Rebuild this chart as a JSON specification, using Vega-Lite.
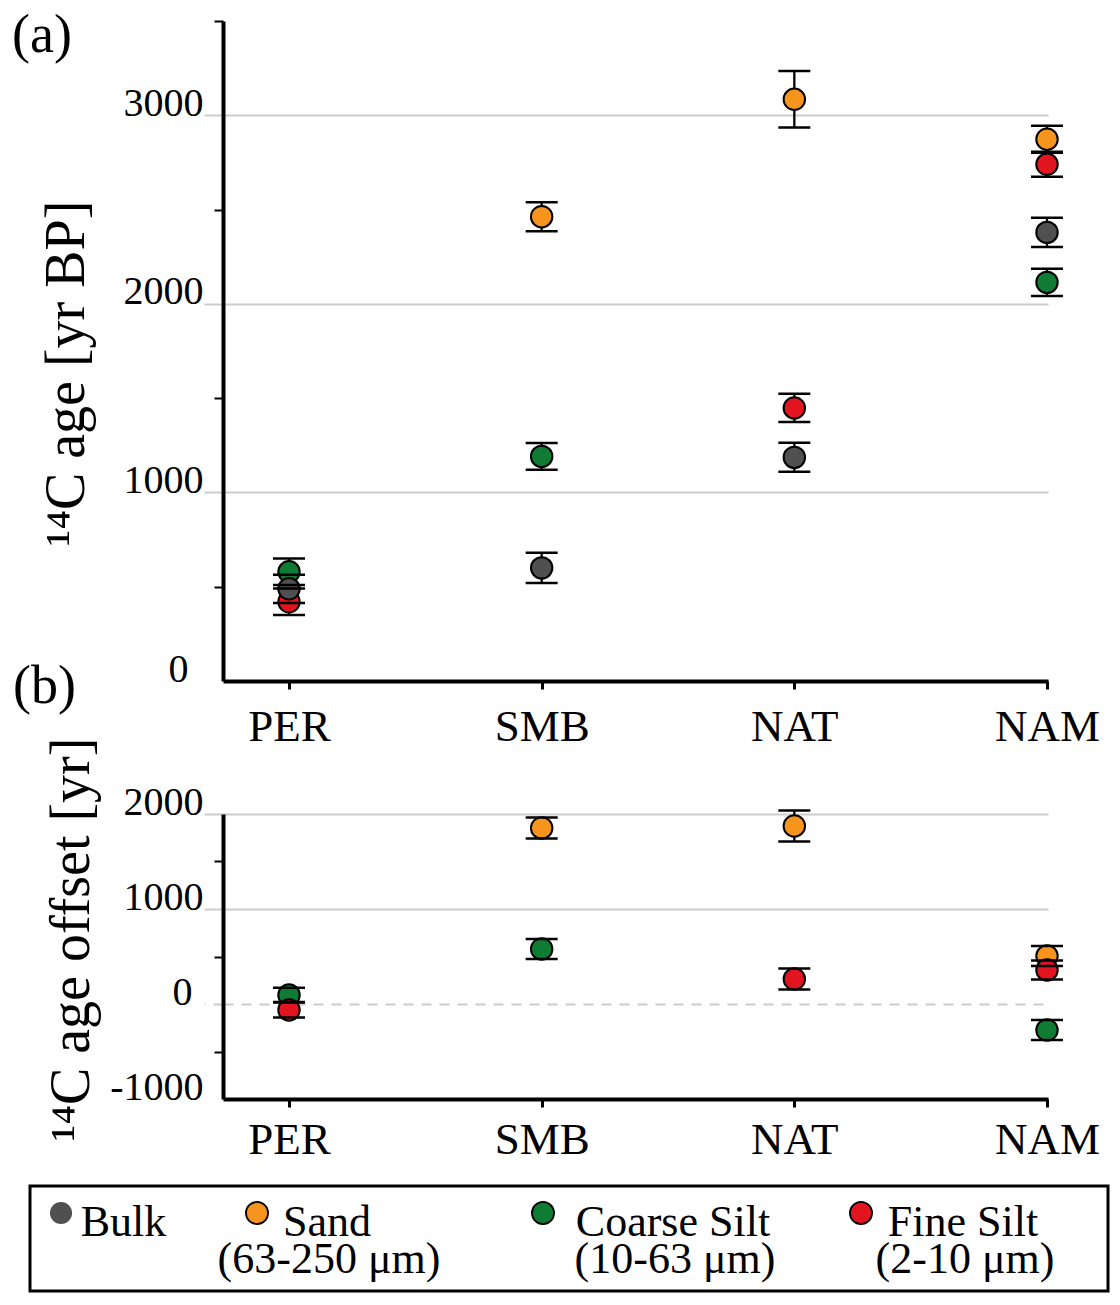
{
  "$schema": "https://vega.github.io/schema/vega-lite/v6.json",
  "padding": {"left": 12, "top": 9, "right": 5, "bottom": 5},
  "background": "white",
  "config": {
    "font": "Liberation Serif",
    "view": {"stroke": null},
    "axis": {"labelFont": "Liberation Serif", "titleFont": "Liberation Serif", "labelColor": "black", "titleColor": "black", "domainColor": "black", "titleFontWeight": "normal"}
  },
  "datasets": {
    "age": [
      {"site": "PER", "series": "Coarse Silt", "age": 579, "err": 70},
      {"site": "PER", "series": "Fine Silt", "age": 420, "err": 70},
      {"site": "PER", "series": "Bulk", "age": 489, "err": 75},
      {"site": "SMB", "series": "Sand", "age": 2462, "err": 77},
      {"site": "SMB", "series": "Coarse Silt", "age": 1191, "err": 71},
      {"site": "SMB", "series": "Bulk", "age": 600, "err": 80},
      {"site": "NAT", "series": "Sand", "age": 3085, "err": 150},
      {"site": "NAT", "series": "Fine Silt", "age": 1448, "err": 75},
      {"site": "NAT", "series": "Bulk", "age": 1186, "err": 77},
      {"site": "NAM", "series": "Sand", "age": 2873, "err": 72},
      {"site": "NAM", "series": "Coarse Silt", "age": 2114, "err": 72},
      {"site": "NAM", "series": "Fine Silt", "age": 2740, "err": 66},
      {"site": "NAM", "series": "Bulk", "age": 2379, "err": 77}
    ],
    "offset": [
      {"site": "PER", "series": "Coarse Silt", "offset": 95, "err": 75},
      {"site": "PER", "series": "Fine Silt", "offset": -63, "err": 80},
      {"site": "SMB", "series": "Sand", "offset": 1853, "err": 110},
      {"site": "SMB", "series": "Coarse Silt", "offset": 579, "err": 105},
      {"site": "NAT", "series": "Sand", "offset": 1874, "err": 163},
      {"site": "NAT", "series": "Fine Silt", "offset": 263, "err": 110},
      {"site": "NAM", "series": "Sand", "offset": 505, "err": 105},
      {"site": "NAM", "series": "Coarse Silt", "offset": -274, "err": 105},
      {"site": "NAM", "series": "Fine Silt", "offset": 358, "err": 100}
    ],
    "panels": [{"panel": "(a)"}],
    "panelsB": [{"panel": "(b)"}],
    "legend": [
      {"series": "Bulk", "order": 1, "line1": "Bulk", "line2": ""},
      {"series": "Sand", "order": 2, "line1": "Sand", "line2": "(63-250 μm)"},
      {"series": "Coarse Silt", "order": 3, "line1": "Coarse Silt", "line2": "(10-63 μm)"},
      {"series": "Fine Silt", "order": 4, "line1": "Fine Silt", "line2": "(2-10 μm)"}
    ]
  },
  "spacing": 22,
  "vconcat": [
    {
      "bounds": "flush",
      "spacing": 133,
      "vconcat": [
        {
          "width": 1018,
          "height": 660,
          "layer": [
            {
              "data": {"name": "age"},
              "encoding": {
                "x": {
                  "field": "site", "type": "nominal", "sort": null,
                  "scale": {"type": "point", "domain": ["PER", "SMB", "NAT", "NAM"], "range": [193, 1018], "padding": 0.1326, "align": 0.985},
                  "axis": {"title": null, "labelAngle": 0, "labelFontSize": 45, "labelBaseline": "alphabetic", "labelPadding": 51, "tickSize": 8, "tickWidth": 3, "tickColor": "black", "domainWidth": 4, "grid": false}
                },
                "y": {
                  "field": "age", "type": "quantitative",
                  "scale": {"domain": [0, 3500], "nice": false, "zero": false},
                  "axis": {
                    "title": "¹⁴C age [yr BP]",
                    "offset": -193,
                    "values": [0, 500, 1000, 1500, 2000, 2500, 3000, 3500],
                    "labelExpr": "datum.value % 1000 === 0 ? '' + datum.value : ''",
                    "labelFontSize": 40, "labelBaseline": "alphabetic",
                    "labelPadding": {"condition": {"test": "datum.value === 0", "value": 16}, "value": 1},
                    "tickSize": {"condition": {"test": "datum.value % 1000 === 0", "value": 19}, "value": 9},
                    "tickColor": {"condition": {"test": "datum.value % 1000 === 0", "value": "#cccccc"}, "value": "black"},
                    "tickOpacity": {"condition": {"test": "datum.value === 0", "value": 0}, "value": 1},
                    "tickWidth": 2,
                    "grid": true, "gridColor": "#cccccc", "gridWidth": 2,
                    "gridOpacity": {"condition": {"test": "datum.value % 1000 === 0 && datum.value !== 0", "value": 1}, "value": 0},
                    "domainWidth": 4,
                    "titleFontSize": 56, "titleX": -140, "titleY": 352, "titleAngle": 270, "titleAlign": "center", "titleBaseline": "alphabetic"
                  }
                }
              },
              "layer": [
                {"mark": {"type": "errorbar", "color": "black", "opacity": 1, "thickness": 2.3, "ticks": false, "rule": {"color": "black", "strokeWidth": 2.3, "opacity": 1}}, "encoding": {"yError": {"field": "err"}}},
                {
                  "mark": {"type": "point", "shape": "circle", "filled": true, "size": 460, "stroke": "black", "strokeWidth": 2, "opacity": 1},
                  "encoding": {"color": {"field": "series", "type": "nominal", "scale": {"domain": ["Bulk", "Sand", "Coarse Silt", "Fine Silt"], "range": ["#505050", "#F7941D", "#0F7B33", "#E2141F"]}, "legend": null}}
                },
                {"mark": {"type": "errorbar", "color": "black", "opacity": 1, "thickness": 2.5, "rule": false, "ticks": {"color": "black", "size": 32, "thickness": 2.5, "opacity": 1}}, "encoding": {"yError": {"field": "err"}}}
              ]
            },
            {
              "data": {"name": "panels"},
              "mark": {"type": "text", "fontSize": 54, "align": "left", "baseline": "alphabetic", "dx": -18, "dy": 31, "color": "black"},
              "encoding": {"x": {"value": 0}, "y": {"value": 0}, "text": {"field": "panel"}}
            }
          ]
        },
        {
          "width": 1018,
          "height": 285,
          "layer": [
            {
              "data": {"name": "offset"},
              "encoding": {
                "x": {
                  "field": "site", "type": "nominal", "sort": null,
                  "scale": {"type": "point", "domain": ["PER", "SMB", "NAT", "NAM"], "range": [193, 1018], "padding": 0.1326, "align": 0.985},
                  "axis": {"title": null, "labelAngle": 0, "labelFontSize": 45, "labelBaseline": "alphabetic", "labelPadding": 46, "tickSize": 8, "tickWidth": 3, "tickColor": "black", "domainWidth": 4, "grid": false}
                },
                "y": {
                  "field": "offset", "type": "quantitative",
                  "scale": {"domain": [-1000, 2000], "nice": false, "zero": false},
                  "axis": {
                    "title": "¹⁴C age offset [yr]",
                    "offset": -193,
                    "values": [-1000, -500, 0, 500, 1000, 1500, 2000],
                    "labelExpr": "datum.value % 1000 === 0 ? '' + datum.value : ''",
                    "labelFontSize": 40, "labelBaseline": "alphabetic",
                    "labelPadding": {"condition": {"test": "datum.value === 0", "value": 12}, "value": 1},
                    "tickSize": {"condition": {"test": "datum.value % 1000 === 0", "value": 19}, "value": 9},
                    "tickColor": {"condition": {"test": "datum.value % 1000 === 0", "value": "#cccccc"}, "value": "black"},
                    "tickOpacity": {"condition": {"test": "datum.value === -1000", "value": 0}, "value": 1},
                    "tickDash": {"condition": {"test": "datum.value === 0", "value": [10, 8]}, "value": []},
                    "tickWidth": 2,
                    "grid": true, "gridColor": "#cccccc", "gridWidth": 2,
                    "gridOpacity": {"condition": {"test": "datum.value % 1000 === 0 && datum.value !== -1000", "value": 1}, "value": 0},
                    "gridDash": {"condition": {"test": "datum.value === 0", "value": [10, 8]}, "value": []},
                    "domainWidth": 4,
                    "titleFontSize": 56, "titleX": -135, "titleY": 125, "titleAngle": 270, "titleAlign": "center", "titleBaseline": "alphabetic"
                  }
                }
              },
              "layer": [
                {"mark": {"type": "errorbar", "color": "black", "opacity": 1, "thickness": 2.3, "ticks": false, "rule": {"color": "black", "strokeWidth": 2.3, "opacity": 1}}, "encoding": {"yError": {"field": "err"}}},
                {
                  "mark": {"type": "point", "shape": "circle", "filled": true, "size": 460, "stroke": "black", "strokeWidth": 2, "opacity": 1},
                  "encoding": {"color": {"field": "series", "type": "nominal", "scale": {"domain": ["Bulk", "Sand", "Coarse Silt", "Fine Silt"], "range": ["#505050", "#F7941D", "#0F7B33", "#E2141F"]}, "legend": null}}
                },
                {"mark": {"type": "errorbar", "color": "black", "opacity": 1, "thickness": 2.5, "rule": false, "ticks": {"color": "black", "size": 32, "thickness": 2.5, "opacity": 1}}, "encoding": {"yError": {"field": "err"}}}
              ]
            },
            {
              "data": {"name": "panelsB"},
              "mark": {"type": "text", "fontSize": 54, "align": "left", "baseline": "alphabetic", "dx": -17, "dy": -111, "color": "black"},
              "encoding": {"x": {"value": 0}, "y": {"value": 0}, "text": {"field": "panel"}}
            }
          ]
        }
      ]
    },
    {
      "width": 1078,
      "height": 105,
      "view": {"stroke": "black", "strokeWidth": 3, "fill": "white"},
      "data": {"name": "legend"},
      "resolve": {"scale": {"x": "independent"}},
      "layer": [
        {
          "mark": {"type": "point", "shape": "circle", "filled": true, "size": 490, "strokeWidth": 1.8, "opacity": 1, "yOffset": -25.5},
          "encoding": {
            "x": {"field": "order", "type": "quantitative", "scale": {"domain": [1, 2, 3, 4], "range": [31, 227, 513, 831], "nice": false, "zero": false}, "axis": null},
            "color": {"field": "series", "type": "nominal", "scale": {"domain": ["Bulk", "Sand", "Coarse Silt", "Fine Silt"], "range": ["#505050", "#F7941D", "#0F7B33", "#E2141F"]}, "legend": null},
            "stroke": {"condition": {"test": "datum.series === 'Bulk'", "value": "transparent"}, "value": "black"}
          }
        },
        {
          "mark": {"type": "text", "fontSize": 44, "align": "center", "baseline": "alphabetic", "dy": -2.5, "color": "black"},
          "encoding": {
            "x": {"field": "order", "type": "quantitative", "scale": {"domain": [1, 2, 3, 4], "range": [93.5, 297, 643, 933], "nice": false, "zero": false}, "axis": null},
            "text": {"field": "line1"}
          }
        },
        {
          "mark": {"type": "text", "fontSize": 44, "align": "center", "baseline": "alphabetic", "dy": 34.5, "color": "black"},
          "encoding": {
            "x": {"field": "order", "type": "quantitative", "scale": {"domain": [1, 2, 3, 4], "range": [93.5, 299, 645, 935], "nice": false, "zero": false}, "axis": null},
            "text": {"field": "line2"}
          }
        }
      ]
    }
  ]
}
